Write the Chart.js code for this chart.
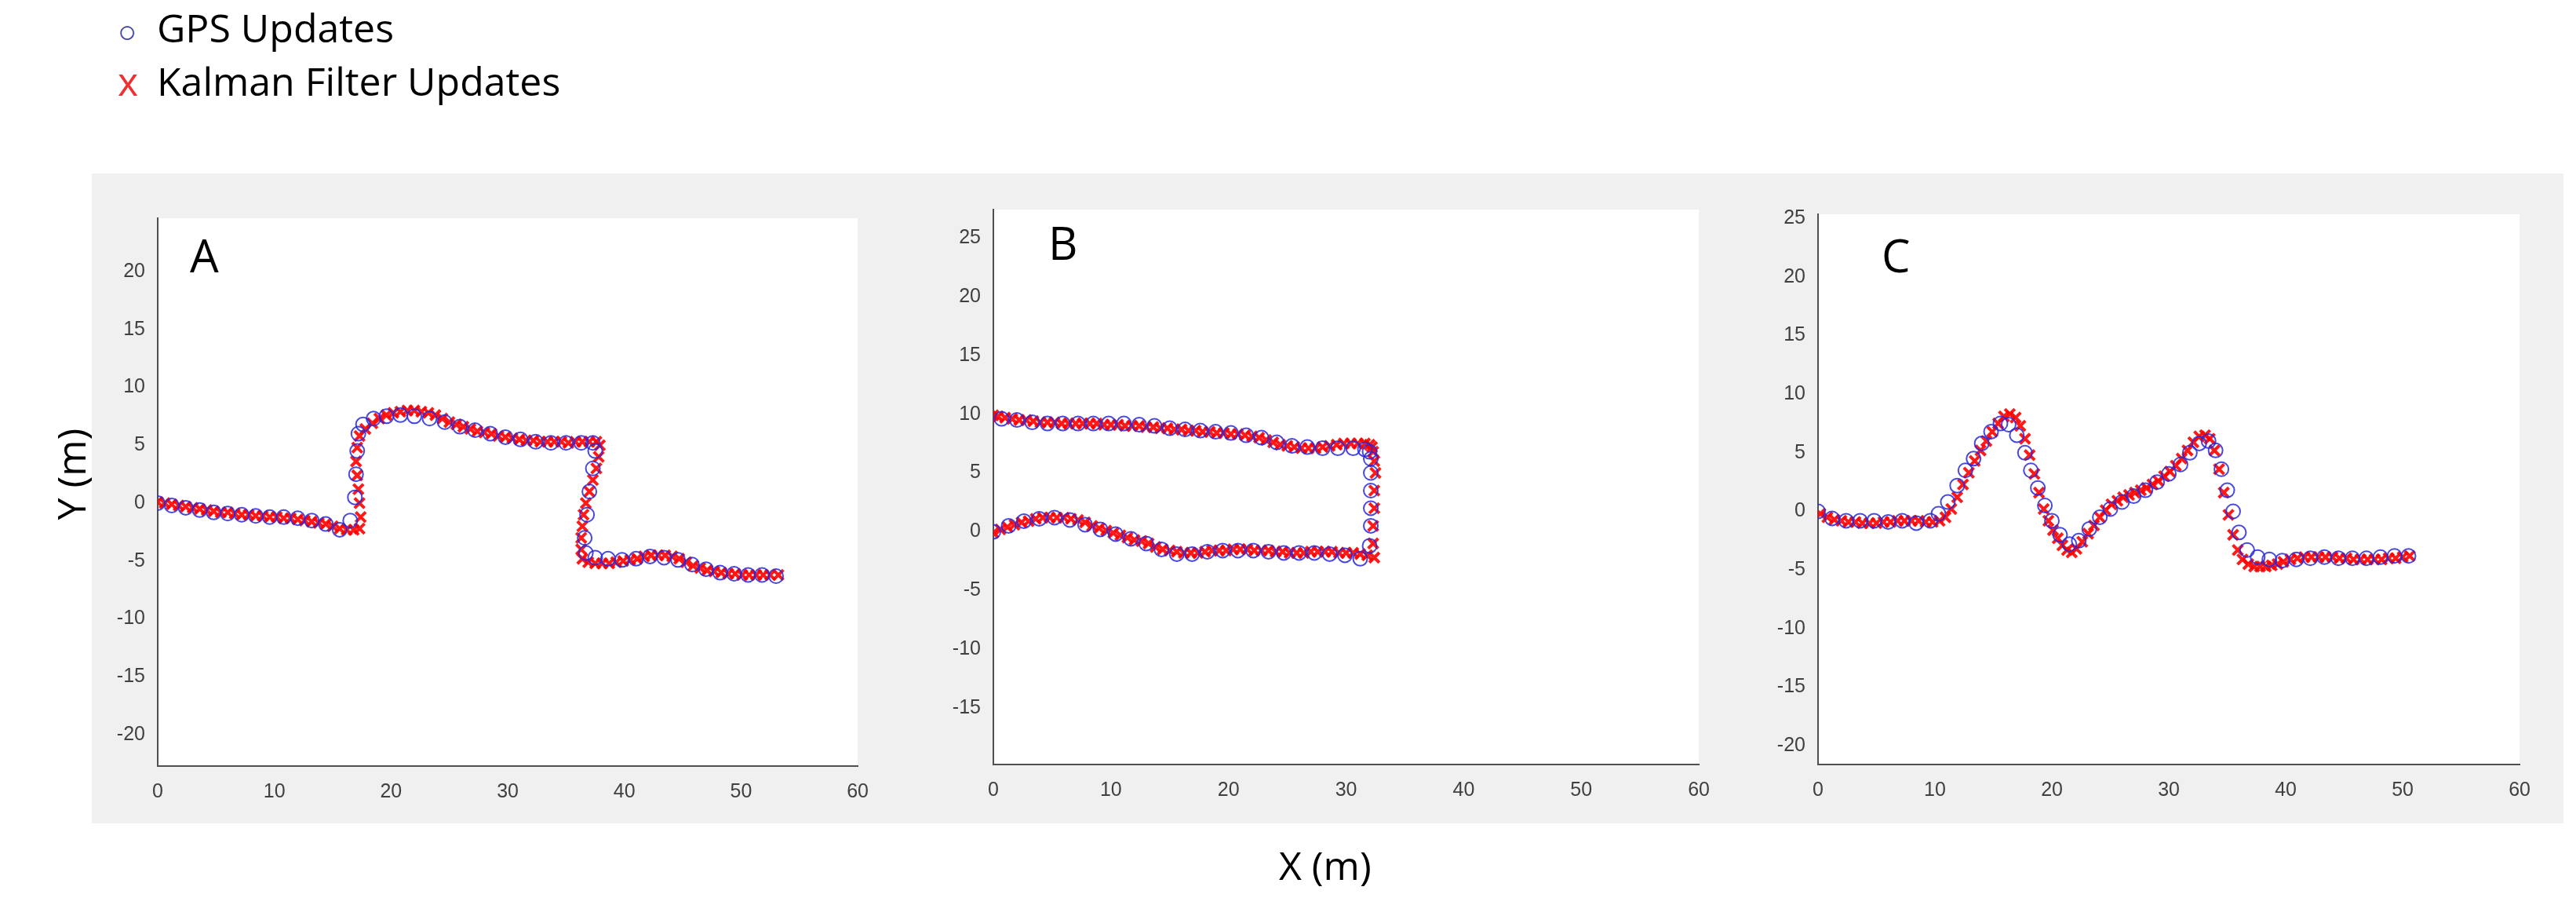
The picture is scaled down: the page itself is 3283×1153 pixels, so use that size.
<!DOCTYPE html>
<html>
<head>
<meta charset="utf-8">
<script src="https://cdn.jsdelivr.net/npm/chart.js@4"></script>
<style>
  body { margin: 0; width: 3283px; height: 1153px; background: #fff; position: relative; overflow: hidden; font-family: "Open Sans", "Noto Sans", sans-serif; }
  .abs { position: absolute; }
  #grayBox { left: 117px; top: 221px; width: 3150px; height: 828px; background: #f0f0f0; }
  .letter { font-size: 58px; color: #000; line-height: 1; }
  .legend { font-size: 50px; color: #000; line-height: 1; left: 150px; }
  .legend span.m { display: inline-block; width: 50px; }
</style>
</head>
<body>
<div id="grayBox" class="abs"></div>
<div class="abs legend" style="top:10px"><span class="m" style="color:#4040a0;font-size:40px">○</span>GPS Updates</div>
<div class="abs legend" style="top:78px"><span class="m" style="color:#f03030">x</span>Kalman Filter Updates</div>
<canvas id="chartA" class="abs" style="left:131px;top:255px"></canvas>
<canvas id="chartB" class="abs" style="left:1196px;top:244px"></canvas>
<canvas id="chartC" class="abs" style="left:2247px;top:250px"></canvas>
<div class="abs letter" style="left:242px;top:296px">A</div>
<div class="abs letter" style="left:1336px;top:280px">B</div>
<div class="abs letter" style="left:2398px;top:296px">C</div>
<div class="abs" style="left:20px;top:570px;font-size:50px;transform:rotate(-90deg);transform-origin:center;width:140px;text-align:center">Y (m)</div>
<div class="abs" style="left:1630px;top:1068px;font-size:50px">X (m)</div>
<script>
// Panel A
const gpsAX = [0, 1.2, 2.4, 3.6, 4.8, 6, 7.2, 8.4, 9.6, 10.8, 12, 13.2, 14.4, 15.6, 16.5, 16.9, 17, 17.1, 17.2, 17.6, 18.5, 19.6, 20.8, 22, 23.3, 24.6, 25.9, 27.2, 28.5, 29.8, 31.1, 32.4, 33.7, 35, 36.3, 37.3, 37.5, 37.3, 37, 36.8, 36.6, 36.7, 37.5, 38.6, 39.8, 41, 42.2, 43.4, 44.6, 45.8, 47, 48.2, 49.4, 50.6, 51.8, 53];
const gpsAY = [0, -0.2, -0.4, -0.6, -0.8, -0.9, -1, -1.1, -1.2, -1.2, -1.3, -1.5, -1.8, -2.3, -1.5, 0.5, 2.5, 4.5, 6, 6.8, 7.3, 7.5, 7.6, 7.5, 7.3, 7, 6.6, 6.3, 6, 5.7, 5.5, 5.3, 5.2, 5.2, 5.2, 5.2, 4.5, 3, 1, -1, -3, -4.3, -4.7, -4.8, -4.9, -4.8, -4.6, -4.7, -4.9, -5.3, -5.7, -6, -6.1, -6.2, -6.2, -6.3];
const kfAX = [0, 0.6, 1.2, 1.8, 2.4, 3, 3.6, 4.2, 4.8, 5.4, 6, 6.6, 7.2, 7.8, 8.4, 9, 9.6, 10.2, 10.8, 11.4, 12, 12.6, 13.2, 13.8, 14.4, 15, 15.6, 16.2, 16.8, 17.3, 17.4, 17.3, 17.2, 17.1, 17, 17.1, 17.3, 17.8, 18.4, 19, 19.6, 20.2, 20.8, 21.4, 22, 22.6, 23.2, 23.8, 24.4, 25, 25.6, 26.2, 26.8, 27.4, 28, 28.6, 29.2, 29.8, 30.4, 31, 31.6, 32.2, 32.8, 33.4, 34, 34.6, 35.2, 35.8, 36.4, 37, 37.6, 37.9, 37.8, 37.6, 37.3, 37, 36.7, 36.5, 36.4, 36.3, 36.3, 36.4, 36.9, 37.5, 38.1, 38.7, 39.3, 39.9, 40.5, 41.1, 41.7, 42.3, 42.9, 43.5, 44.1, 44.7, 45.3, 45.9, 46.5, 47.1, 47.7, 48.3, 48.9, 49.5, 50.1, 50.7, 51.3, 51.9, 52.5, 53.2];
const kfAY = [0.1, 0, -0.1, -0.2, -0.3, -0.4, -0.5, -0.6, -0.7, -0.8, -0.8, -0.9, -1, -1, -1.1, -1.1, -1.2, -1.2, -1.3, -1.3, -1.4, -1.5, -1.6, -1.7, -1.8, -2, -2.2, -2.3, -2.3, -2.2, -1.2, 0, 1.2, 2.4, 3.6, 4.8, 5.8, 6.4, 6.9, 7.3, 7.6, 7.8, 7.9, 8, 8, 7.9, 7.8, 7.6, 7.3, 7, 6.8, 6.6, 6.4, 6.2, 6.1, 6, 5.8, 5.7, 5.6, 5.5, 5.4, 5.4, 5.3, 5.3, 5.3, 5.3, 5.2, 5.3, 5.3, 5.3, 5.3, 5, 4, 3, 2, 1, 0, -1, -2, -3, -4, -4.8, -5.1, -5.2, -5.2, -5.2, -5.1, -5, -4.9, -4.8, -4.6, -4.5, -4.5, -4.5, -4.6, -4.8, -5.1, -5.4, -5.6, -5.8, -5.9, -6, -6.1, -6.1, -6.2, -6.2, -6.2, -6.2, -6.2, -6.2];

// Panel B
const gpsBX = [0, 1.3, 2.6, 3.9, 5.2, 6.5, 7.8, 9.1, 10.4, 11.7, 13, 14.3, 15.6, 16.9, 18.2, 19.5, 20.8, 22.1, 23.4, 24.7, 26, 27.3, 28.6, 29.9, 31.2, 32, 32.1, 32.1, 32.1, 32.1, 32.1, 32, 31.6, 30.6, 29.3, 28, 26.7, 25.4, 24.1, 22.8, 21.5, 20.2, 18.9, 17.6, 16.3, 15, 13.7, 12.4, 11.1, 9.8, 8.5, 7.2, 5.9, 4.6, 3.3, 2, 0.7];
const gpsBY = [0, 0.5, 0.9, 1.1, 1.2, 1, 0.6, 0.2, -0.2, -0.6, -1, -1.5, -1.9, -1.9, -1.7, -1.6, -1.6, -1.6, -1.7, -1.8, -1.8, -1.8, -1.9, -2, -2.3, -1.2, 0.5, 2, 3.5, 5, 6.2, 6.8, 7, 7.1, 7.1, 7.1, 7.2, 7.3, 7.6, 8, 8.2, 8.4, 8.5, 8.6, 8.7, 8.8, 9, 9.1, 9.2, 9.2, 9.2, 9.2, 9.2, 9.2, 9.3, 9.5, 9.6];
const kfBX = [0, 0.6, 1.2, 1.8, 2.4, 3, 3.6, 4.2, 4.8, 5.4, 6, 6.6, 7.2, 7.8, 8.4, 9, 9.6, 10.2, 10.8, 11.4, 12, 12.6, 13.2, 13.8, 14.4, 15, 15.6, 16.2, 16.8, 17.4, 18, 18.6, 19.2, 19.8, 20.4, 21, 21.6, 22.2, 22.8, 23.4, 24, 24.6, 25.2, 25.8, 26.4, 27, 27.6, 28.2, 28.8, 29.4, 30, 30.6, 31.2, 31.8, 32.4, 32.3, 32.3, 32.4, 32.4, 32.5, 32.4, 32.3, 32.2, 32, 31.6, 31, 30.4, 29.8, 29.2, 28.6, 28, 27.4, 26.8, 26.2, 25.6, 25, 24.4, 23.8, 23.2, 22.6, 22, 21.4, 20.8, 20.2, 19.6, 19, 18.4, 17.8, 17.2, 16.6, 16, 15.4, 14.8, 14.2, 13.6, 13, 12.4, 11.8, 11.2, 10.6, 10, 9.4, 8.8, 8.2, 7.6, 7, 6.4, 5.8, 5.2, 4.6, 4, 3.4, 2.8, 2.2, 1.6, 1, 0.4, 0];
const kfBY = [-0.1, 0.2, 0.4, 0.6, 0.8, 0.9, 1.1, 1.2, 1.2, 1.2, 1.2, 1.1, 1, 0.8, 0.5, 0.3, 0.1, -0.1, -0.3, -0.5, -0.7, -0.8, -1, -1.3, -1.5, -1.6, -1.7, -1.8, -1.8, -1.8, -1.7, -1.6, -1.6, -1.6, -1.5, -1.5, -1.5, -1.6, -1.6, -1.6, -1.7, -1.7, -1.8, -1.8, -1.8, -1.7, -1.7, -1.7, -1.7, -1.8, -1.8, -1.8, -1.9, -2, -2.2, -1, 0.5, 2, 3.5, 5, 6, 6.8, 7.2, 7.4, 7.5, 7.5, 7.5, 7.5, 7.4, 7.3, 7.2, 7.1, 7.1, 7.1, 7.2, 7.3, 7.4, 7.6, 7.8, 8, 8.1, 8.2, 8.3, 8.3, 8.4, 8.4, 8.5, 8.5, 8.6, 8.6, 8.7, 8.7, 8.8, 8.8, 8.9, 8.9, 9, 9, 9, 9.1, 9.1, 9.1, 9.2, 9.2, 9.2, 9.2, 9.2, 9.2, 9.3, 9.3, 9.3, 9.4, 9.5, 9.5, 9.6, 9.7, 9.8, 9.9];

// Panel C
const gpsCX = [0, 1.2, 2.4, 3.6, 4.8, 6, 7.2, 8.4, 9.6, 10.3, 11.1, 11.9, 12.6, 13.3, 14, 14.8, 15.6, 16.3, 17, 17.7, 18.2, 18.8, 19.4, 20, 20.7, 21.5, 22.3, 23.2, 24.1, 25, 26, 27, 28, 29, 30, 31, 31.8, 32.6, 33.4, 34, 34.5, 35, 35.5, 36, 36.7, 37.6, 38.6, 39.7, 40.9, 42.1, 43.3, 44.5, 45.7, 46.9, 48.1, 49.3, 50.5];
const gpsCY = [0, -0.6, -0.8, -0.8, -0.8, -0.9, -0.8, -1, -0.8, -0.2, 0.8, 2.2, 3.5, 4.5, 5.8, 6.8, 7.5, 7.4, 6.5, 5, 3.5, 2, 0.5, -0.8, -2, -2.8, -2.5, -1.5, -0.5, 0.2, 0.8, 1.3, 1.8, 2.5, 3.2, 4, 5, 5.8, 6, 5.2, 3.6, 1.8, 0, -1.8, -3.3, -3.9, -4.1, -4.2, -4.1, -4, -3.9, -4, -4, -4, -3.9, -3.8, -3.8];
const kfCX = [0.2, 0.8, 1.4, 2, 2.6, 3.2, 3.8, 4.4, 5, 5.6, 6.2, 6.8, 7.4, 8, 8.6, 9.2, 9.8, 10.4, 10.9, 11.4, 11.9, 12.4, 12.9, 13.4, 13.9, 14.4, 14.9, 15.4, 15.9, 16.4, 16.9, 17.3, 17.7, 18.1, 18.5, 18.9, 19.3, 19.7, 20.1, 20.5, 20.9, 21.3, 21.7, 22.1, 22.6, 23.1, 23.6, 24.1, 24.6, 25.1, 25.6, 26.1, 26.6, 27.1, 27.6, 28.1, 28.6, 29.1, 29.6, 30.1, 30.6, 31.1, 31.6, 32.1, 32.6, 33.1, 33.5, 33.9, 34.3, 34.7, 35.1, 35.5, 35.9, 36.3, 36.8, 37.3, 37.8, 38.3, 38.8, 39.3, 39.8, 40.4, 41, 41.6, 42.2, 42.8, 43.4, 44, 44.6, 45.2, 45.8, 46.4, 47, 47.6, 48.2, 48.8, 49.4, 50, 50.6];
const kfCY = [-0.2, -0.5, -0.7, -0.8, -0.9, -0.9, -1, -1, -1, -0.9, -0.9, -0.8, -0.8, -0.8, -0.8, -0.9, -0.9, -0.8, -0.5, 0.2, 1.2, 2.3, 3.3, 4.3, 5.2, 6, 6.8, 7.5, 8.1, 8.3, 8, 7.3, 6.2, 4.8, 3.2, 1.6, 0.2, -0.8, -1.6, -2.3, -2.9, -3.3, -3.5, -3.2, -2.6, -1.9, -1.2, -0.5, 0.1, 0.6, 0.9, 1.2, 1.4, 1.6, 1.8, 2, 2.3, 2.6, 3, 3.4, 3.9, 4.5, 5.2, 5.9, 6.4, 6.5, 6.2, 5.2, 3.6, 1.6, -0.3, -2, -3.3, -4.1, -4.5, -4.7, -4.7, -4.7, -4.6, -4.5, -4.3, -4.1, -4, -3.9, -3.9, -3.9, -3.9, -3.9, -4, -4, -4.1, -4.1, -4.1, -4.1, -4.1, -4, -4, -3.9, -3.8];

const xTicks = [0, 10, 20, 30, 40, 50, 60];

function toPoints(xs, ys) {
    return xs.map((x, i) => ({ x: x, y: ys[i] }));
}

// fill the plot area white, the rest stays grey
const plotBackground = {
    id: 'plotBackground',
    beforeDraw(chart) {
        const { ctx, chartArea: a } = chart;
        ctx.save();
        ctx.fillStyle = '#ffffff';
        ctx.fillRect(a.left, a.top, a.right - a.left, a.bottom - a.top);
        ctx.restore();
    }
};

function makePanel(id, w, h, gpsX, gpsY, kfX, kfY, yMin, yMax) {
    const canvas = document.getElementById(id);
    canvas.width = w;
    canvas.height = h;
    canvas.style.width = w + 'px';
    canvas.style.height = h + 'px';
    const tickFont = { family: '"Liberation Sans Narrow", "Liberation Sans", sans-serif', size: 25 };
    new Chart(canvas, {
        type: 'scatter',
        data: {
            datasets: [
                {
                    label: 'GPS Updates',
                    data: toPoints(gpsX, gpsY),
                    pointStyle: 'circle',
                    pointRadius: 9,
                    borderColor: 'rgba(40,40,220,0.85)',
                    backgroundColor: 'rgba(0,0,0,0)',
                    borderWidth: 2
                },
                {
                    label: 'Kalman Filter Updates',
                    data: toPoints(kfX, kfY),
                    pointStyle: 'crossRot',
                    pointRadius: 9,
                    borderColor: 'rgba(255,0,0,0.9)',
                    borderWidth: 4
                }
            ]
        },
        options: {
            responsive: false,
            animation: false,
            devicePixelRatio: 1,
            layout: { padding: { top: 10, right: 10, left: 0, bottom: 0 } },
            plugins: { legend: { display: false }, tooltip: { enabled: false } },
            scales: {
                x: {
                    type: 'linear', min: 0, max: 60,
                    afterFit: s => { s.height = 60; },
                    afterBuildTicks: s => { s.ticks = xTicks.map(v => ({ value: v })); },
                    grid: { display: false },
                    border: { display: true, color: '#505050', width: 2 },
                    ticks: { color: '#404040', font: tickFont, padding: 10, maxRotation: 0 }
                },
                y: {
                    type: 'linear', min: yMin, max: yMax,
                    afterFit: s => { s.width = 70; },
                    afterBuildTicks: s => {
                        const t = [];
                        for (let v = Math.ceil(yMin / 5) * 5; v <= yMax; v += 5) t.push({ value: v });
                        s.ticks = t;
                    },
                    grid: { display: false },
                    border: { display: true, color: '#505050', width: 2 },
                    ticks: { color: '#404040', font: tickFont, padding: 8 }
                }
            }
        },
        plugins: [plotBackground]
    });
}

makePanel('chartA', 986, 781, gpsAX, gpsAY, kfAX, kfAY, -22.7, 24.6);
makePanel('chartB', 993, 790, gpsBX, gpsBY, kfBX, kfBY, -19.8, 27.4);
makePanel('chartC', 988, 784, gpsCX, gpsCY, kfCX, kfCY, -21.6, 25.35);
</script>
</body>
</html>
